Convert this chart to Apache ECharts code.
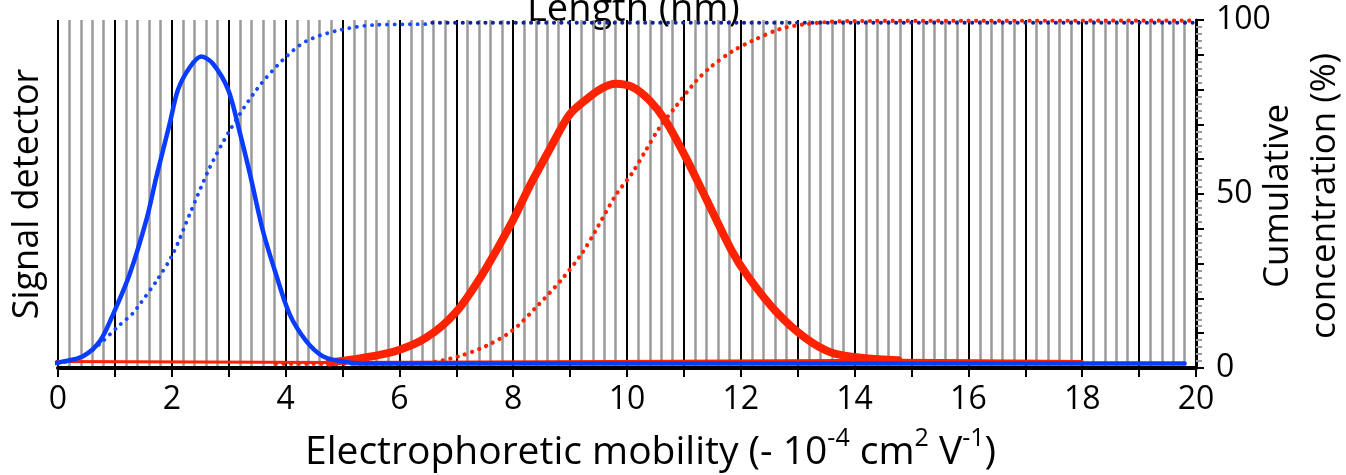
<!DOCTYPE html>
<html style="height: 100%">
<head>
    <meta charset="utf-8">
    <script src="https://cdn.jsdelivr.net/npm/echarts@6/dist/echarts.min.js"></script>
    <title>Electrophoretic mobility</title>
</head>
<body style="height: 100%; margin: 0; background: #fff">
<div id="container" style="width: 1346px; height: 475px"></div>
<script type="text/javascript">
    // signal detector, blue (short) sample
    let blueSigX = [-0.33, 0.04, 0.44, 0.74, 0.97, 1.26, 1.56, 1.73, 1.96, 2.11, 2.32, 2.52, 2.72, 2.99, 3.19, 3.37, 3.6, 3.83, 4.07, 4.36, 4.65, 4.95, 5.3, 19.8]
    let blueSigY = [0.8, 1.7, 3.4, 7.8, 15.5, 27, 43, 55, 70, 80, 86.5, 89.5, 87.5, 80, 68, 56, 39.5, 27, 15.5, 7.8, 3.4, 2, 1.3, 1.3]
    // cumulative concentration, blue sample
    let blueCumX = [0.0, 0.45, 0.74, 1.06, 1.32, 1.44, 1.73, 2.02, 2.32, 2.67, 3.02, 3.49, 3.95, 4.36, 4.95, 5.59, 6.58]
    let blueCumY = [1.2, 3.5, 7.0, 12.0, 15.8, 18.4, 25, 32.8, 44.4, 57.7, 68.3, 80, 88.5, 93.9, 97.1, 98.6, 98.8]
    let blueTopX = [6.58, 20]
    let blueTopY = [99.2, 99.2]
    // signal detector, red (long) sample
    let redBaseX = [-0.3, 4.77, 14.77, 18]
    let redBaseY = [1.9, 1.6, 2.2, 1.9]
    let redSigX = [4.77, 5.35, 5.94, 6.47, 6.99, 7.46, 7.98, 8.28, 8.63, 8.98, 9.27, 9.56, 9.8, 10.09, 10.39, 10.68, 11.03, 11.38, 11.84, 12.14, 12.61, 13.13, 13.6, 14.19, 14.77]
    let redSigY = [1.6, 2.9, 4.9, 8.7, 16, 27, 42, 52, 62.5, 72.6, 77, 80.4, 81.7, 80.8, 77, 71, 60.6, 49, 33.7, 26, 16.4, 8.7, 4.4, 2.8, 2.2]
    // cumulative concentration, red sample
    let redCumX = [3.83, 6.06, 6.53, 7.05, 7.52, 7.98, 8.4, 8.86, 9.21, 9.45, 9.8, 10.09, 10.33, 10.56, 10.85, 11.2, 11.47, 11.85, 12.2, 12.67, 13.13, 13.9, 20]
    let redCumY = [1.2, 1.2, 1.5, 3.4, 6.3, 10.7, 17.4, 25.6, 33, 39.5, 49.6, 56, 62.5, 68.8, 75, 82.2, 86.5, 91, 94, 97.3, 98.8, 99.7, 99.8]

    let rightTicks = [0, 50, 100]

    function pairs(xs, ys) {
        return xs.map((x, i) => [x, ys[i]])
    }

    let font = 'Open Sans'
    let blue = '#0a3cff'
    let red = '#ff2200'

    function curve(xs, ys, color, width, dotted) {
        return {
            type: 'line',
            data: pairs(xs, ys),
            showSymbol: false,
            clip: false,
            smooth: 0.3,
            lineStyle: dotted
                ? {color: color, width: width, type: [0.1, 7.5], cap: 'round'}
                : {color: color, width: width, cap: 'round', join: 'round'}
        }
    }

    let dom = document.getElementById("container")
    let chart = echarts.init(dom)
    chart.setOption({
        animation: false,
        textStyle: {fontFamily: font},
        grid: {left: 58, right: 150, top: 20, bottom: 107, containLabel: false, outerBoundsMode: 'none'},
        graphic: [
            {   // top axis title, cut off by the image edge
                type: 'text', left: 527, top: -9,
                style: {text: 'Length (nm)', font: '38px "Open Sans"', fill: '#000'}
            },
            {
                type: 'text', x: 28, y: 194, rotation: Math.PI / 2,
                style: {
                    text: 'Signal detector', font: '36px "Open Sans"', fill: '#000',
                    align: 'center', verticalAlign: 'middle'
                }
            },
            {
                type: 'text', x: 1302, y: 196, rotation: Math.PI / 2,
                style: {
                    text: 'Cumulative\nconcentration (%)', font: '35px "Open Sans"', fill: '#000',
                    lineHeight: 47, align: 'center', verticalAlign: 'middle'
                }
            },
            {
                type: 'text', left: 305, top: 424,
                style: {
                    text: '{a|Electrophoretic mobility (- 10}{s|-4}{a| cm}{s|2}{a| V}{s|-1}{a|)}',
                    rich: {
                        a: {fontSize: 39, fontFamily: font, color: '#000', lineHeight: 48, verticalAlign: 'bottom'},
                        s: {fontSize: 25, fontFamily: font, color: '#000', lineHeight: 48, verticalAlign: 'top', padding: [2, 0, 0, 0]}
                    }
                }
            }
        ],
        xAxis: {
            type: 'value', min: 0, max: 20, interval: 1,
            axisLine: {onZero: false, lineStyle: {color: '#000', width: 4}},
            axisTick: {length: 9, lineStyle: {color: '#000', width: 2}},
            axisLabel: {
                fontSize: 32, color: '#000', margin: 16,
                formatter: v => (v % 2 === 0 ? String(v) : '')
            },
            splitLine: {show: true, lineStyle: {color: '#000', width: 2}},
            minorTick: {show: false, splitNumber: 5},
            minorSplitLine: {show: true, lineStyle: {color: '#9b9b9b', width: 2.5}}
        },
        yAxis: {
            type: 'value', position: 'right', min: 0, max: 100, interval: 10,
            axisLine: {show: true, onZero: false, lineStyle: {color: '#000', width: 3}},
            axisTick: {show: true, length: 8, lineStyle: {color: '#000', width: 2}},
            minorTick: {show: true, splitNumber: 5, length: 6, lineStyle: {color: '#9b9b9b', width: 2}},
            axisLabel: {
                fontSize: 32, color: '#000', margin: 20,
                formatter: v => (rightTicks.includes(v) ? String(v) : '')
            },
            splitLine: {show: false}
        },
        series: [
            curve(blueCumX, blueCumY, '#1747ff', 3.8, true),
            curve(blueTopX, blueTopY, '#0b239e', 4, true),
            curve(redCumX, redCumY, red, 4.2, true),
            curve(redBaseX, redBaseY, red, 3, false),
            curve(redSigX, redSigY, red, 8, false),
            curve(blueSigX, blueSigY, blue, 4.5, false)
        ]
    }, true)
</script>
</body>
</html>
